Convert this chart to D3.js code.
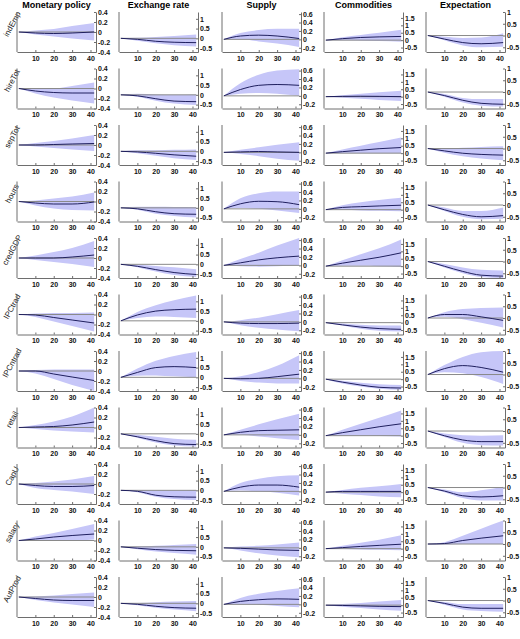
<!DOCTYPE html>
<html><head><meta charset="utf-8">
<script src="https://cdn.jsdelivr.net/npm/d3@7"></script>
<style>body{margin:0;background:#fff}svg{font-family:"Liberation Sans",Arial,sans-serif}</style>
</head><body><svg id="c" width="520" height="639"></svg>
<script>
const shocks = ["Monetary policy","Exchange rate","Supply","Commodities","Expectation"];
const variables = ["indEmp","hireTot","sepTot","hours","credGDP","IPCtrad","IPCntrad","retail","CapU","salary","AutProd"];
const horizons = [1,10,20,30,42];
const yDomains = [[-0.4,0.4],[-0.7,1.35],[-0.3,0.65],[-0.8,1.9],[-0.7,1.0]];
const yTicks = [[-0.4,-0.2,0,0.2,0.4],[-0.5,0,0.5,1],[-0.2,0,0.2,0.4,0.6],[-0.5,0,0.5,1,1.5],[-0.5,0,0.5,1]];
const xTicks = [10,20,30,40];
// each entry: [median, lower, upper] at horizons
const col1 = [
 [[0,-0.02,-0.03,-0.02,0],[0,-0.05,-0.09,-0.13,-0.17],[0,0.03,0.06,0.12,0.18]],
 [[0,-0.05,-0.08,-0.09,-0.09],[0,-0.1,-0.18,-0.24,-0.3],[0,0,0,0.05,0.12]],
 [[0,0,0.01,0.02,0.03],[0,-0.03,-0.06,-0.09,-0.12],[0,0.04,0.08,0.13,0.2]],
 [[0,-0.03,-0.05,-0.05,-0.01],[0,-0.08,-0.14,-0.17,-0.18],[0,0.02,0.06,0.1,0.18]],
 [[0,0,0,0.02,0.06],[0,-0.04,-0.08,-0.12,-0.18],[0,0.05,0.12,0.2,0.34]],
 [[0,-0.01,-0.06,-0.11,-0.17],[0,-0.05,-0.14,-0.23,-0.34],[0,0.02,0.03,0.03,0.04]],
 [[0,0,-0.06,-0.12,-0.19],[0,-0.05,-0.16,-0.28,-0.4],[0,0.02,0.03,0.03,0.03]],
 [[0,0.01,0.02,0.05,0.11],[0,-0.03,-0.06,-0.08,-0.1],[0,0.05,0.12,0.22,0.4]],
 [[0,-0.03,-0.05,-0.05,-0.03],[0,-0.08,-0.12,-0.15,-0.2],[0,0.02,0.05,0.09,0.16]],
 [[0,0.03,0.07,0.1,0.13],[0,0,0,0,0.02],[0,0.08,0.15,0.23,0.33]],
 [[0,-0.03,-0.06,-0.07,-0.07],[0,-0.06,-0.11,-0.15,-0.2],[0,0.01,0.03,0.06,0.09]]
];
const col2 = [
 [[0,-0.05,-0.15,-0.2,-0.22],[0,-0.12,-0.25,-0.35,-0.42],[0,0.03,0.07,0.12,0.2]],
 [[0,-0.05,-0.2,-0.32,-0.35],[0,-0.1,-0.3,-0.45,-0.52],[0,0.05,0.02,0,0.02]],
 [[0,-0.03,-0.1,-0.18,-0.25],[0,-0.1,-0.22,-0.35,-0.45],[0,0.05,0.06,0.08,0.1]],
 [[0,-0.05,-0.2,-0.3,-0.33],[0,-0.1,-0.3,-0.42,-0.5],[0,0.05,0.05,0.04,0.03]],
 [[0,-0.1,-0.27,-0.42,-0.52],[0,-0.15,-0.37,-0.55,-0.65],[0,-0.02,-0.08,-0.15,-0.25]],
 [[0,0.3,0.5,0.57,0.6],[0,0.15,0.22,0.2,0.15],[0,0.45,0.8,1.05,1.3]],
 [[0,0.25,0.5,0.55,0.5],[0,0.08,0.1,0.05,0],[0,0.45,0.85,1.1,1.3]],
 [[0,-0.15,-0.35,-0.5,-0.55],[0,-0.2,-0.45,-0.6,-0.65],[0,-0.05,-0.15,-0.25,-0.3]],
 [[0,-0.05,-0.25,-0.33,-0.35],[0,-0.1,-0.33,-0.45,-0.5],[0,0.02,0,0,0.02]],
 [[0,-0.07,-0.14,-0.18,-0.2],[0,-0.12,-0.24,-0.32,-0.4],[0,0.02,0.06,0.1,0.15]],
 [[0,-0.05,-0.15,-0.22,-0.25],[0,-0.1,-0.22,-0.32,-0.4],[0,0.02,0.06,0.1,0.12]]
];
const col3 = [
 [[0,0.08,0.1,0.08,0.02],[0,0,-0.05,-0.1,-0.18],[0,0.15,0.22,0.25,0.25]],
 [[0,0.15,0.25,0.27,0.25],[0,0.05,0.07,0.05,0],[0,0.3,0.5,0.6,0.63]],
 [[0,0.01,0.02,0.01,0],[0,-0.04,-0.09,-0.15,-0.2],[0,0.06,0.12,0.18,0.24]],
 [[0,0.12,0.18,0.17,0.1],[0,0.02,0,-0.04,-0.1],[0,0.25,0.37,0.41,0.41]],
 [[0,0.06,0.13,0.18,0.22],[0,-0.02,-0.03,-0.02,0],[0,0.15,0.3,0.47,0.65]],
 [[0,-0.03,-0.04,-0.04,-0.03],[0,-0.08,-0.14,-0.18,-0.22],[0,0.04,0.1,0.18,0.28]],
 [[0,-0.01,0,0.04,0.1],[0,-0.06,-0.1,-0.12,-0.12],[0,0.05,0.15,0.3,0.55]],
 [[0,0.06,0.1,0.11,0.12],[0,0,-0.04,-0.08,-0.12],[0,0.12,0.25,0.37,0.5]],
 [[0,0.1,0.15,0.15,0.1],[0,0.02,0,-0.03,-0.1],[0,0.2,0.3,0.36,0.38]],
 [[0,-0.01,-0.03,-0.05,-0.06],[0,-0.06,-0.13,-0.18,-0.22],[0,0.03,0.05,0.08,0.13]],
 [[0,0.07,0.11,0.13,0.12],[0,0,-0.01,-0.04,-0.07],[0,0.15,0.25,0.32,0.38]]
];
const col4 = [
 [[0,0.1,0.18,0.22,0.25],[0,0,-0.02,-0.05,-0.1],[0,0.2,0.35,0.5,0.7]],
 [[0,0.02,0.03,0.02,0],[0,-0.08,-0.15,-0.22,-0.3],[0,0.1,0.2,0.3,0.4]],
 [[0,0.1,0.2,0.3,0.38],[0,0,0,0,0],[0,0.25,0.5,0.75,1.05]],
 [[0,0.15,0.2,0.25,0.3],[0,0,-0.05,-0.07,-0.1],[0,0.3,0.5,0.65,0.8]],
 [[0,0.2,0.4,0.6,0.9],[0,0.03,0.02,0,-0.05],[0,0.4,0.8,1.2,1.8]],
 [[0,-0.15,-0.3,-0.4,-0.45],[0,-0.2,-0.42,-0.55,-0.6],[0,-0.05,-0.15,-0.2,-0.2]],
 [[0,-0.2,-0.4,-0.55,-0.6],[0,-0.3,-0.5,-0.65,-0.72],[0,-0.1,-0.25,-0.35,-0.4]],
 [[0,0.2,0.4,0.6,0.8],[0,0,0,-0.02,-0.05],[0,0.4,0.8,1.2,1.7]],
 [[0,0.05,0.05,0.05,0.05],[0,-0.1,-0.2,-0.3,-0.35],[0,0.15,0.3,0.4,0.55]],
 [[0,0.07,0.15,0.22,0.3],[0,-0.02,-0.05,-0.07,-0.1],[0,0.2,0.4,0.6,0.9]],
 [[0,-0.02,-0.05,-0.08,-0.1],[0,-0.1,-0.2,-0.3,-0.38],[0,0.07,0.15,0.25,0.35]]
];
const col5 = [
 [[0,-0.15,-0.3,-0.35,-0.3],[0,-0.2,-0.42,-0.5,-0.48],[0,-0.05,-0.1,-0.08,0.1]],
 [[0,-0.15,-0.35,-0.48,-0.52],[0,-0.2,-0.45,-0.58,-0.62],[0,-0.08,-0.25,-0.3,-0.3]],
 [[0,-0.1,-0.2,-0.25,-0.28],[0,-0.18,-0.33,-0.42,-0.5],[0,0,0.03,0.07,0.1]],
 [[0,-0.2,-0.4,-0.5,-0.45],[0,-0.25,-0.5,-0.6,-0.58],[0,-0.1,-0.25,-0.25,-0.1]],
 [[0,-0.2,-0.42,-0.58,-0.62],[0,-0.25,-0.5,-0.66,-0.7],[0,-0.1,-0.25,-0.35,-0.38]],
 [[0,0.15,0.15,0.05,-0.1],[0,0.05,-0.05,-0.2,-0.4],[0,0.25,0.38,0.43,0.45]],
 [[0,0.25,0.38,0.3,0.1],[0,0.1,0.05,-0.1,-0.4],[0,0.4,0.75,0.95,1.0]],
 [[0,-0.2,-0.38,-0.45,-0.45],[0,-0.25,-0.5,-0.6,-0.62],[0,-0.1,-0.18,-0.2,-0.18]],
 [[0,-0.15,-0.35,-0.4,-0.35],[0,-0.2,-0.45,-0.55,-0.55],[0,-0.08,-0.2,-0.12,0.03]],
 [[0,0.02,0.15,0.25,0.35],[0,-0.02,0,0,0],[0,0.08,0.35,0.65,1.0]],
 [[0,-0.12,-0.28,-0.33,-0.33],[0,-0.18,-0.38,-0.45,-0.48],[0,-0.06,-0.15,-0.15,-0.15]]
];
const columns = [col1,col2,col3,col4,col5];

const svg = d3.select("#c");
const colLeft = [17,119,222,324,426], W = 79, H = 40, top0 = 12, rowStep = 56.5;
const axisCol = "#6e6e6e";

shocks.forEach((s,ci)=>{
  svg.append("text").attr("x",colLeft[ci]+W/2).attr("y",8).attr("text-anchor","middle")
    .attr("font-size",9).attr("font-weight","bold").text(s);
});
variables.forEach((v,ri)=>{
  const cy = top0 + ri*rowStep + 12;
  svg.append("text").attr("transform",`translate(12,${cy}) rotate(-62)`).attr("text-anchor","middle")
    .attr("dy","0.35em").attr("font-size",8).attr("fill","#222").text(v);
});

columns.forEach((col,ci)=>{
  col.forEach((d,ri)=>{
    const g = svg.append("g").attr("transform",`translate(${colLeft[ci]},${top0+ri*rowStep})`);
    const x = d3.scaleLinear().domain([0,43]).range([0,W]);
    const y = d3.scaleLinear().domain(yDomains[ci]).range([H,0]);
    const pts = horizons.map((h,i)=>({h,m:d[0][i],lo:d[1][i],hi:d[2][i]}));
    g.append("path").datum(pts).attr("fill","#c6c6f8")
      .attr("d",d3.area().curve(d3.curveMonotoneX).x(p=>x(p.h)).y0(p=>y(p.lo)).y1(p=>y(p.hi)));
    g.append("line").attr("x1",x(1)).attr("x2",x(42)).attr("y1",y(0)).attr("y2",y(0))
      .attr("stroke","#8a8a8a").attr("stroke-width",1);
    g.append("path").datum(pts).attr("fill","none").attr("stroke","#1f1f5e").attr("stroke-width",1)
      .attr("d",d3.line().curve(d3.curveMonotoneX).x(p=>x(p.h)).y(p=>y(p.m)));
    const xa = g.append("g").attr("transform",`translate(0,${H})`)
      .call(d3.axisBottom(x).tickValues(xTicks).tickSize(-2).tickPadding(4).tickSizeOuter(0));
    const ya = g.append("g").attr("transform",`translate(${W},0)`)
      .call(d3.axisRight(y).tickValues(yTicks[ci]).tickSize(-2).tickPadding(2).tickSizeOuter(0)
        .tickFormat(t=>String(+t.toFixed(1))));
    g.append("line").attr("x1",0).attr("x2",0).attr("y1",0).attr("y2",H).attr("stroke",axisCol);
    [xa,ya].forEach(a=>{
      a.select(".domain").attr("stroke",axisCol);
      a.selectAll(".tick line").attr("stroke",axisCol);
      a.selectAll("text").attr("font-size",7).attr("font-weight","bold").attr("fill","#111")
        .attr("font-family","Liberation Sans, Arial, sans-serif");
    });
  });
});
</script></body></html>
